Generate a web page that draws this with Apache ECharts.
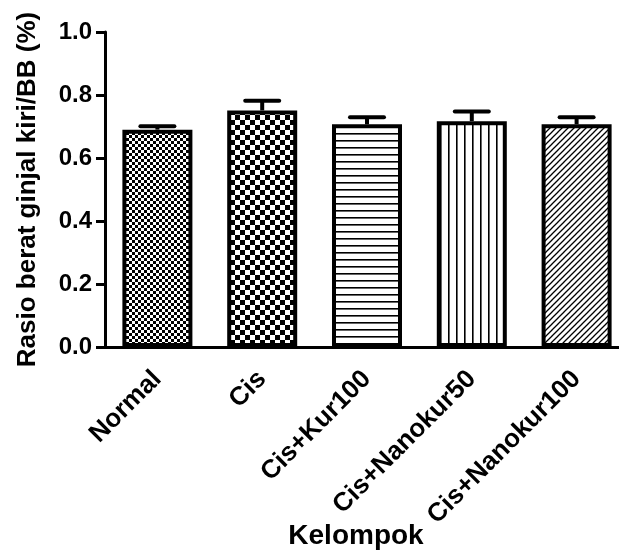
<!DOCTYPE html>
<html>
<head>
<meta charset="utf-8">
<script src="https://cdn.jsdelivr.net/npm/echarts@6/dist/echarts.min.js"></script>
<style>
  html, body { margin: 0; padding: 0; background: #fff; }
  #chart { width: 619px; height: 552px; }
</style>
</head>
<body>
<div id="chart"></div>
<script>
// Kidney weight ratio per treatment group (mean + SEM)
const categories = ['Normal', 'Cis', 'Cis+Kur100', 'Cis+Nanokur50', 'Cis+Nanokur100'];
const means = [0.690, 0.751, 0.707, 0.717, 0.707];
const sem = [0.011, 0.031, 0.022, 0.031, 0.022];
const yTicks = { min: 0, max: 1.0, step: 0.2 };

const FONT = "'Liberation Sans', Arial, Helvetica, sans-serif";

// Black-and-white fill patterns drawn on small canvases
function tile(w, h, draw) {
  const c = document.createElement('canvas');
  c.width = w; c.height = h;
  const g = c.getContext('2d');
  g.fillStyle = '#fff';
  g.fillRect(0, 0, w, h);
  g.fillStyle = '#000';
  g.strokeStyle = '#000';
  draw(g, w, h);
  return { image: c, repeat: 'repeat' };
}
function checker(cell) {
  return tile(cell * 2, cell * 2, (g) => {
    g.fillRect(0, 0, cell, cell);
    g.fillRect(cell, cell, cell, cell);
  });
}
const patterns = [
  checker(3),
  checker(5),
  tile(1, 7, (g) => { g.fillRect(0, 0, 1, 1.6); }),
  tile(8, 1, (g) => { g.fillRect(0, 0, 1.6, 1); }),
  tile(6, 6, (g) => {
    g.lineWidth = 1.3;
    g.beginPath();
    g.moveTo(-1, 7); g.lineTo(7, -1);
    g.moveTo(-4, 4); g.lineTo(4, -4);
    g.moveTo(2, 10); g.lineTo(10, 2);
    g.stroke();
  })
];

const barData = means.map((v, i) => ({
  value: v,
  itemStyle: { color: patterns[i] }
}));
const errData = means.map((v, i) => [i, v, sem[i]]);

const chart = echarts.init(document.getElementById('chart'), null, { renderer: 'canvas' });
chart.setOption({
  animation: false,
  backgroundColor: '#fff',
  grid: { left: 105, top: 32, width: 524, height: 315, containLabel: false, outerBoundsMode: 'none' },
  xAxis: {
    type: 'category',
    data: categories,
    name: 'Kelompok',
    nameLocation: 'middle',
    nameGap: 175,
    nameMoveOverlap: false,
    nameTextStyle: { fontFamily: FONT, fontWeight: 'bold', fontSize: 28, color: '#000', padding: [0, 22, 0, 0] },
    axisLine: { lineStyle: { color: '#000', width: 3 } },
    axisTick: { alignWithLabel: true, length: 8, lineStyle: { color: '#000', width: 3 } },
    axisLabel: {
      interval: 0, rotate: 45, margin: 28,
      fontFamily: FONT, fontWeight: 'bold', fontSize: 26, color: '#000'
    }
  },
  yAxis: {
    type: 'value',
    min: yTicks.min, max: yTicks.max, interval: yTicks.step,
    name: 'Rasio berat ginjal kiri/BB (%)',
    nameLocation: 'middle',
    nameGap: 64,
    nameMoveOverlap: false,
    nameTextStyle: { fontFamily: FONT, fontWeight: 'bold', fontSize: 26, color: '#000' },
    axisLine: { show: true, lineStyle: { color: '#000', width: 3 } },
    axisTick: { show: true, length: 9, lineStyle: { color: '#000', width: 3 } },
    splitLine: { show: false },
    axisLabel: {
      margin: 13,
      fontFamily: FONT, fontWeight: 'bold', fontSize: 24, color: '#000',
      formatter: (v) => v.toFixed(1)
    }
  },
  series: [
    {
      type: 'bar',
      data: barData,
      barWidth: 70,
      itemStyle: { borderColor: '#000', borderWidth: 4 },
      z: 2
    },
    {
      type: 'custom',
      data: errData,
      encode: { x: 0, y: 1 },
      z: 3,
      renderItem: function (params, api) {
        const idx = api.value(0);
        const v = api.value(1);
        const e = api.value(2);
        const base = api.coord([idx, v]);
        const top = api.coord([idx, v + e]);
        const half = 17;
        return {
          type: 'group',
          children: [
            { type: 'line', shape: { x1: base[0], y1: base[1], x2: top[0], y2: top[1] },
              style: { stroke: '#000', lineWidth: 4 } },
            { type: 'line', shape: { x1: top[0] - half, y1: top[1], x2: top[0] + half, y2: top[1] },
              style: { stroke: '#000', lineWidth: 4, lineCap: 'round' } }
          ]
        };
      }
    }
  ]
});
</script>
</body>
</html>
